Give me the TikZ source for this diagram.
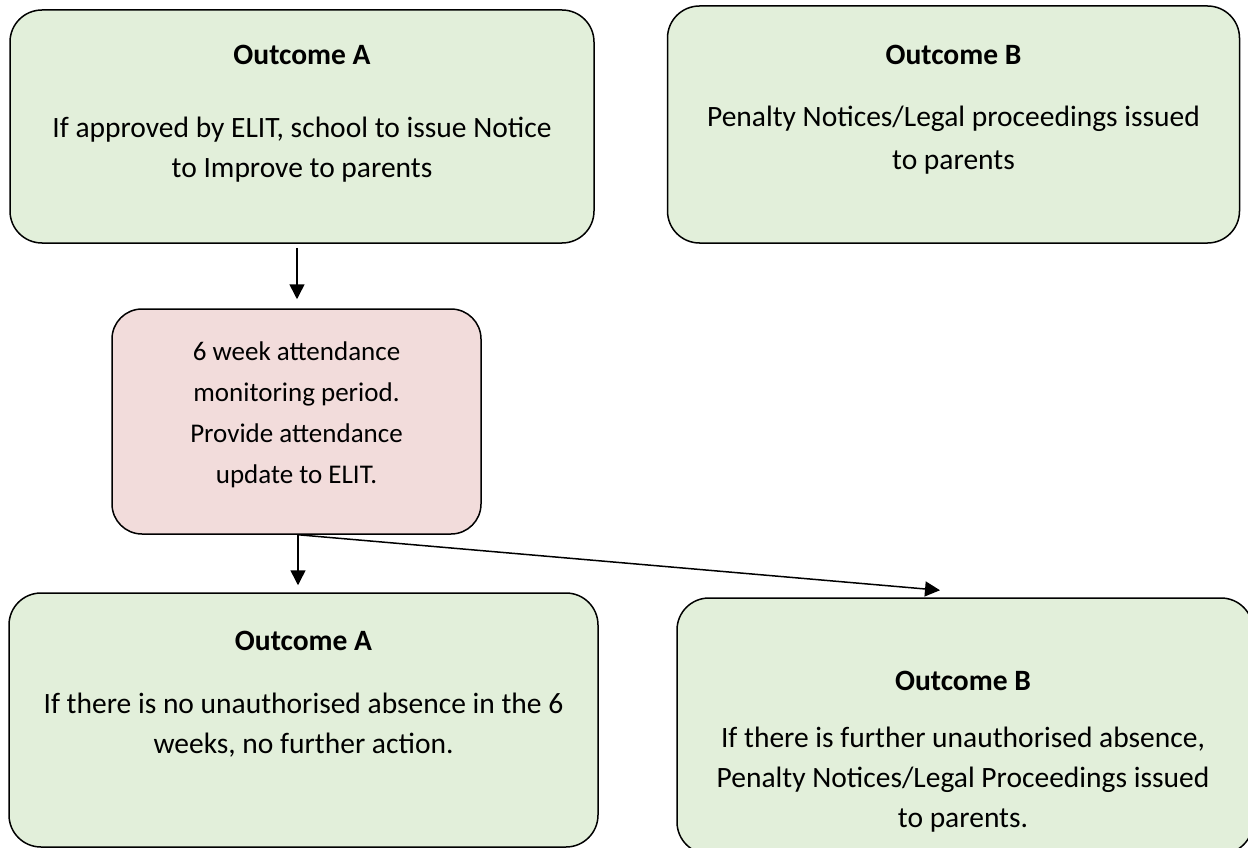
\documentclass[tikz,border=0pt]{standalone}
\usepackage{fontspec}
\setmainfont{Carlito}
\usetikzlibrary{arrows.meta,calc}
\definecolor{boxgreen}{HTML}{E2EFDA}
\definecolor{boxpink}{HTML}{F2DCDB}
\tikzset{
  greenbox/.style={draw=black, line width=1.5pt, fill=boxgreen, rounded corners=32pt, inner sep=0pt},
  pinkbox/.style={draw=black, line width=1.5pt, fill=boxpink, rounded corners=30pt, inner sep=0pt},
  txt/.style={anchor=base, inner sep=0pt, font=\fontsize{29.5}{41}\selectfont},
  stxt/.style={anchor=base, inner sep=0pt, font=\fontsize{27}{41}\selectfont},
  ttl/.style={txt, font=\fontsize{29.5}{41}\selectfont\bfseries},
  arr/.style={line width=1.5pt, -{Triangle[width=15pt,length=15pt]}}
}
\begin{document}
\begin{tikzpicture}[x=1pt,y=-1pt]
\useasboundingbox (0,0) rectangle (1248,848);
\clip (0,0) rectangle (1248,848);
% boxes
\node[greenbox, minimum width=584pt, minimum height=233pt] (A1) at (302,126.5) {};
\node[greenbox, minimum width=572pt, minimum height=237pt] (B1) at (953.5,124.5) {};
\node[pinkbox, minimum width=369pt, minimum height=225pt] (P) at (296.5,421.5) {};
\node[greenbox, minimum width=589pt, minimum height=254pt] (A2) at (303.5,720) {};
\node[greenbox, minimum width=576pt, minimum height=256pt] (B2) at (965,726) {};
% texts
\node[ttl] (A1t) at (302,65) {Outcome A};
\node[txt] (A1l1) at (302,138) {If approved by ELIT, school to issue Notice};
\node[txt] (A1l2) at (302,178) {to Improve to parents};
\node[ttl] (B1t) at (953.5,65) {Outcome B};
\node[txt] (B1l1) at (953.5,127) {Penalty Notices/Legal proceedings issued};
\node[txt] (B1l2) at (953.5,170) {to parents};
\node[stxt] (P1) at (296.5,360) {6 week attendance};
\node[stxt] (P2) at (296.5,401) {monitoring period.};
\node[stxt] (P3) at (296.5,442) {Provide attendance};
\node[stxt] (P4) at (296.5,483) {update to ELIT.};
\node[ttl] (A2t) at (303.5,650) {Outcome A};
\node[txt] (A2l1) at (303.5,713) {If there is no unauthorised absence in the 6};
\node[txt] (A2l2) at (303.5,753) {weeks, no further action.};
\node[ttl] (B2t) at (963,690) {Outcome B};
\node[txt] (B2l1) at (963,747) {If there is further unauthorised absence,};
\node[txt] (B2l2) at (963,787) {Penalty Notices/Legal Proceedings issued};
\node[txt] (B2l3) at (963,827) {to parents.};
% connectors
\coordinate (Pout) at ([xshift=1.5pt]P.south);
\draw[arr] ([xshift=-5pt,yshift=-4pt]A1.south) -- ([xshift=0.5pt,yshift=9pt]P.north);
\draw[arr] (Pout) -- ([yshift=7pt]Pout |- A2.north);
\draw[arr] (Pout) -- ([xshift=-25pt,yshift=7pt]B2.north);
\end{tikzpicture}
\end{document}
